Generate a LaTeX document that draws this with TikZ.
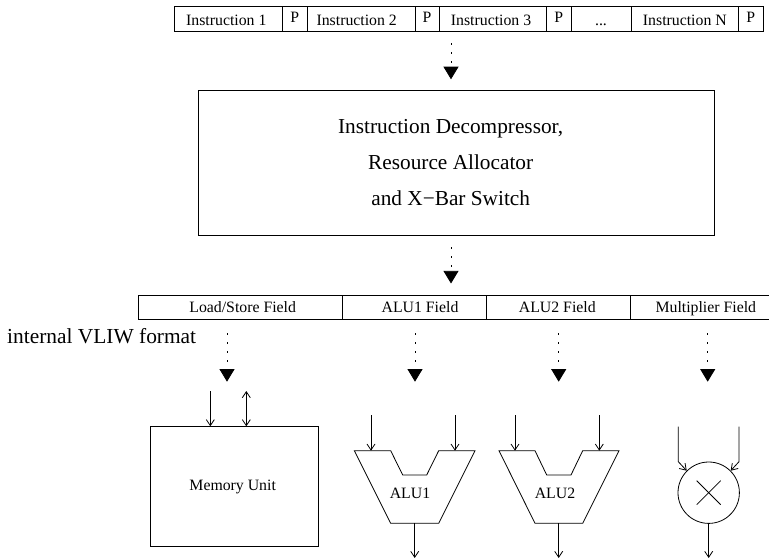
\documentclass[tikz,border=0pt]{standalone}
\usepackage{fontspec}
\setmainfont{Liberation Serif}
\usetikzlibrary{arrows.meta}
\tikzset{
    cell/.style={draw, line width=.8pt, inner sep=0pt, text depth=0pt, font=\fontsize{15.8}{18}\selectfont},
    topcell/.style={cell, minimum height=24.3pt, text height=14.3pt},
    pcell/.style={cell, minimum height=24.3pt, text height=7.7pt},
    fieldcell/.style={cell, minimum height=24pt, text height=10pt},
    unitlabel/.style={inner sep=0pt, font=\fontsize{15.8}{18}\selectfont},
    biglabel/.style={inner sep=0pt, font=\fontsize{21.3}{36}\selectfont},
    wire/.style={line width=.8pt, -{Straight Barb[length=6pt,width=8pt]}},
    dwire/.style={line width=.8pt, {Straight Barb[length=6pt,width=8pt]}-{Straight Barb[length=6pt,width=8pt]}},
    plainline/.style={line width=.8pt},
    feed/.style={line width=.8pt, dash pattern=on 2pt off 7pt, -{Triangle[length=12.6pt,width=15pt]}}
}
\begin{document}
\begin{tikzpicture}[x=1pt, y=-1pt]
    \useasboundingbox (0,0) rectangle (769,559);

    % Instruction word
    \node[topcell, minimum width=108.4pt] (ins1) at (228.5,18.85) {\hspace*{-4.4pt}Instruction 1};
    \node[pcell, minimum width=24.3pt] (p1) at (294.85,18.85) {P};
    \node[topcell, minimum width=108pt] (ins2) at (361,18.85) {\hspace*{-8.6pt}Instruction 2};
    \node[pcell, minimum width=24pt] (p2) at (427,18.85) {P};
    \node[topcell, minimum width=107.7pt] (ins3) at (492.85,18.85) {\hspace*{-3.6pt}Instruction 3};
    \node[pcell, minimum width=24.3pt] (p3) at (558.85,18.85) {P};
    \node[topcell, minimum width=60pt] (dots) at (601,18.85) {...};
    \node[topcell, minimum width=107.7pt] (insn) at (684.85,18.85) {Instruction N};
    \node[pcell, minimum width=24.3pt] (pn) at (750.85,18.85) {P};

    % Decompressor
    \node[draw, plainline, inner sep=0pt, minimum width=516pt, minimum height=145pt] (dec) at (456.7,162.5) {};
    \node[biglabel, align=center] (dectext) at (450.7,162.7) {Instruction Decompressor,\\Resource Allocator\\and X−Bar Switch};

    % Internal format
    \node[fieldcell, minimum width=204pt] (load) at (240.3,307) {\hspace*{4.8pt}Load/Store Field};
    \node[fieldcell, minimum width=144pt] (alu1f) at (414.3,307) {\hspace*{11.4pt}ALU1 Field};
    \node[fieldcell, minimum width=144.4pt] (alu2f) at (558.5,307) {\hspace*{-2.4pt}ALU2 Field};
    \node[fieldcell, minimum width=142pt] (mulf) at (701.7,307) {\hspace*{8.2pt}Multiplier Field};
    \node[anchor=base west, inner sep=0pt, font=\fontsize{21.4}{24}\selectfont] (fmt) at (7,343) {internal VLIW format};

    % Dotted feeds
    \coordinate (decin) at (451,79.3);
    \coordinate (decout) at (451,283.5);
    \coordinate (memin) at (227,381.7);
    \coordinate (aluain) at (415,381.7);
    \coordinate (alubin) at (558.7,381.7);
    \coordinate (mulin) at (707.7,381.7);
    \draw[feed, shorten <=12pt] (decin |- ins3.south) -- (decin);
    \draw[feed, shorten <=12pt] (decout |- dec.south) -- (decout);
    \draw[feed, shorten <=14pt] (memin |- load.south) -- (memin);
    \draw[feed, shorten <=14pt] (aluain |- alu1f.south) -- (aluain);
    \draw[feed, shorten <=14pt] (alubin |- alu2f.south) -- (alubin);
    \draw[feed, shorten <=14pt] (mulin |- mulf.south) -- (mulin);

    % Memory
    \node[draw, plainline, inner sep=0pt, minimum width=168.4pt, minimum height=120pt, unitlabel] (mem) at (234.5,486.7) {\hspace*{-3.6pt}Memory Unit};
    \coordinate (memr) at (210.3,391);
    \coordinate (memw) at (246.3,391);
    \draw[wire] (memr) -- (memr |- mem.north);
    \draw[dwire] (memw) -- (memw |- mem.north);

    % ALU1
    \draw[plainline] (354.3,450.7) -- (390.7,450.7) -- (402.7,475) -- (426.7,475) -- (438.7,450.7)
    -- (475,450.7) -- (438.7,523.3) -- (390.7,523.3) -- cycle;
    \node[unitlabel, anchor=base] (alu1) at (410,498.3) {ALU1};
    \coordinate (aluax) at (371,415);
    \coordinate (aluay) at (455,415);
    \coordinate (aluatop) at (371,450.7);
    \coordinate (aluabot) at (414.7,523.3);
    \coordinate (aluaout) at (414.7,558);
    \draw[wire] (aluax) -- (aluatop);
    \draw[wire] (aluay) -- (aluay |- aluatop);
    \draw[wire] (aluabot) -- (aluaout);

    % ALU2
    \draw[plainline] (499,450.7) -- (535,450.7) -- (546.7,475) -- (571,475) -- (582.7,450.7)
    -- (619,450.7) -- (582.7,523.3) -- (535,523.3) -- cycle;
    \node[unitlabel, anchor=base] (alu2) at (555,498.3) {ALU2};
    \coordinate (alubx) at (515,415);
    \coordinate (aluby) at (599.3,415);
    \coordinate (alubtop) at (515,450.7);
    \coordinate (alubbot) at (558.7,523.3);
    \coordinate (alubout) at (558.7,558);
    \draw[wire] (alubx) -- (alubtop);
    \draw[wire] (aluby) -- (aluby |- alubtop);
    \draw[wire] (alubbot) -- (alubout);

    % Multiplier
    \node[draw, plainline, circle, inner sep=0pt, minimum size=61.4pt] (mul) at (708.7,492.7) {};
    \draw[line width=.8pt] (696.7,480.7) -- (720.7,504.7);
    \draw[line width=.8pt] (720.7,480.7) -- (696.7,504.7);
    \coordinate (mulx) at (678.3,426.7);
    \coordinate (mulxb) at (678.3,461.7);
    \coordinate (muly) at (739,426.7);
    \coordinate (mulyb) at (739,461.7);
    \coordinate (mulout) at (708.7,558);
    \draw[wire] (mulx) -- (mulxb) -- (mul.135);
    \draw[wire] (muly) -- (mulyb) -- (mul.45);
    \draw[wire] (mul.south) -- (mulout);
\end{tikzpicture}
\end{document}
